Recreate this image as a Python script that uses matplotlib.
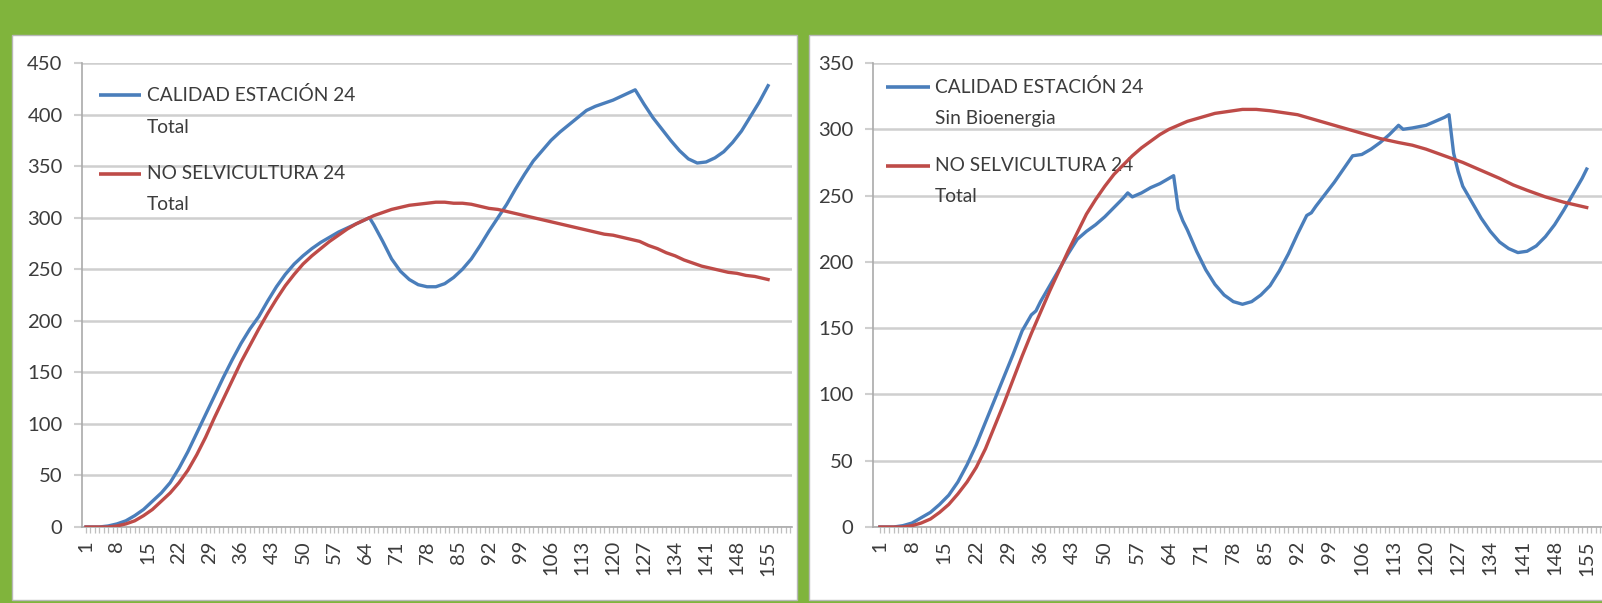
import matplotlib
matplotlib.use('Agg')
import matplotlib.pyplot as plt
from matplotlib import font_manager
from matplotlib.patches import Rectangle

# ---------------- data ----------------
x_blue_left = [1, 4, 6, 8, 10, 12, 14, 16, 18, 20, 22, 24, 26, 28, 30, 32, 34, 36, 38, 40,
               42, 44, 46, 48, 50, 52, 54, 56, 58, 60, 62, 64, 65, 66, 68, 70, 72, 74, 76, 78,
               80, 82, 84, 86, 88, 90, 92, 94, 96, 98, 100, 102, 104, 106, 108, 110, 112, 114,
               116, 118, 120, 122, 124, 125, 127, 129, 131, 133, 135, 137, 139, 141, 143, 145,
               147, 149, 151, 153, 155]
blue_left = [0, 0, 1, 3, 6, 11, 17, 25, 33, 43, 57, 73, 91, 109, 127, 145, 162, 178, 192, 204,
             219, 233, 245, 255, 263, 270, 276, 281, 286, 290, 294, 298, 300, 293, 277, 260, 248, 240, 235, 233,
             233, 236, 242, 250, 260, 273, 287, 300, 313, 328, 342, 355, 365, 375, 383, 390, 397, 404,
             408, 411, 414, 418, 422, 424, 410, 397, 386, 375, 365, 357, 353, 354, 358, 364,
             373, 384, 398, 412, 428]

x_red_left = [1, 6, 8, 10, 12, 14, 16, 18, 20, 22, 24, 26, 28, 30, 32, 34, 36, 38, 40, 42,
              44, 46, 48, 50, 52, 54, 56, 58, 60, 62, 64, 66, 68, 70, 72, 74, 76, 78, 80, 82,
              84, 86, 88, 90, 92, 94, 96, 98, 100, 102, 104, 106, 108, 110, 112, 114, 116, 118, 120, 122,
              124, 126, 128, 130, 132, 134, 136, 138, 140, 142, 144, 146, 148, 150, 152, 155]
red_left = [0, 0, 1, 3, 6, 11, 17, 25, 33, 43, 55, 70, 87, 106, 124, 142, 160, 176, 192, 207,
            221, 234, 245, 255, 263, 270, 277, 283, 289, 294, 298, 302, 305, 308, 310, 312, 313, 314, 315, 315,
            314, 314, 313, 311, 309, 308, 306, 304, 302, 300, 298, 296, 294, 292, 290, 288, 286, 284, 283, 281,
            279, 277, 273, 270, 266, 263, 259, 256, 253, 251, 249, 247, 246, 244, 243, 240]

x_blue_right = [1, 4, 6, 8, 10, 12, 14, 16, 18, 20, 22, 24, 26, 28, 30, 32, 34, 35, 36, 38,
                40, 42, 44, 46, 48, 50, 52, 54, 55, 56, 58, 60, 62, 64, 65, 66, 67, 68, 70, 72,
                74, 76, 78, 80, 82, 84, 86, 88, 90, 92, 94, 95, 96, 98, 100, 102, 104, 106, 108, 110,
                112, 114, 115, 117, 120, 122, 124, 125, 126, 127, 128, 130, 132, 134, 136, 138, 140, 142, 144, 146,
                148, 150, 152, 154, 155]
blue_right = [0, 0, 1, 3, 7, 11, 17, 24, 34, 47, 62, 79, 96, 113, 130, 148, 160, 163, 170, 182,
              194, 206, 217, 223, 228, 234, 241, 248, 252, 249, 252, 256, 259, 263, 265, 240, 231, 224, 208, 194,
              183, 175, 170, 168, 170, 175, 182, 193, 206, 221, 235, 237, 242, 251, 260, 270, 280, 281, 285, 290,
              296, 303, 300, 301, 303, 306, 309, 311, 282, 268, 257, 245, 233, 223, 215, 210, 207, 208, 212, 219,
              228, 239, 251, 263, 270]

x_red_right = [1, 6, 8, 10, 12, 14, 16, 18, 20, 22, 24, 26, 28, 30, 32, 34, 36, 38, 40, 42,
               44, 46, 48, 50, 52, 54, 56, 58, 60, 62, 64, 66, 68, 70, 72, 74, 76, 78, 80, 83,
               86, 88, 90, 92, 94, 96, 98, 100, 103, 106, 110, 114, 117, 120, 124, 128, 132, 136,
               139, 142, 146, 150, 155]
red_right = [0, 0, 1, 3, 6, 11, 17, 25, 34, 45, 59, 76, 93, 111, 129, 146, 162, 178, 193, 208,
             222, 236, 247, 257, 266, 273, 280, 286, 291, 296, 300, 303, 306, 308, 310, 312, 313, 314, 315, 315,
             314, 313, 312, 311, 309, 307, 305, 303, 300, 297, 293, 290, 288, 285, 280, 275, 269, 263,
             258, 254, 249, 245, 241]

tick_positions = [1, 8, 15, 22, 29, 36, 43, 50, 57, 64, 71, 78, 85, 92, 99, 106, 113, 120,
                  127, 134, 141, 148, 155]
tick_labels = [str(v) for v in tick_positions]

left_labels = ["CALIDAD ESTACIÓN 24\nTotal", "NO SELVICULTURA 24\nTotal"]
right_labels = ["CALIDAD ESTACIÓN 24\nSin Bioenergia", "NO SELVICULTURA 24\nTotal"]

BLUE = '#4a7ebb'
RED = '#be4b48'
GREEN = '#80b43c'
TEXT = '#3c3c3c'

# ---------------- fonts ----------------
def pick_font():
    for fam, scale in [('Liberation Sans Narrow', 1.0), ('Lato', 0.86), ('DejaVu Sans', 0.78)]:
        try:
            font_manager.findfont(font_manager.FontProperties(family=fam), fallback_to_default=False)
            return fam, scale
        except Exception:
            pass
    return 'DejaVu Sans', 0.78

FONT, FS = pick_font()
plt.rcParams['font.family'] = [FONT, 'DejaVu Sans']

W, H = 1602, 603
fig = plt.figure(figsize=(W / 100, H / 100), dpi=100)
fig.patch.set_facecolor(GREEN)

# white panels
for (x0, x1) in [(12, 797), (809, 1640)]:
    fig.add_artist(Rectangle((x0 / W, 3 / H), (x1 - x0) / W, (600 - 35) / H,
                             transform=fig.transFigure, facecolor='white',
                             edgecolor='#b8b8b8', linewidth=1.0, zorder=-10))


def style_axes(ax, ymax, ystep, xlim):
    ax.set_facecolor('none')
    ax.set_xlim(*xlim)
    ax.set_ylim(0, ymax)
    ax.set_yticks(range(0, ymax + 1, ystep))
    ax.yaxis.grid(True, color='#cfcfcf', linewidth=1.8)
    ax.set_axisbelow(True)
    for s in ['top', 'right']:
        ax.spines[s].set_visible(False)
    for s in ['left', 'bottom']:
        ax.spines[s].set_color('#aaaaaa')
        ax.spines[s].set_linewidth(1.2)
    ax.set_xticks(tick_positions)
    ax.set_xticklabels(tick_labels, rotation=90)
    ax.set_xticks(range(1, 161), minor=True)
    ax.tick_params(axis='x', which='both', length=4.5, width=0.9, color='#bfbfbf',
                   labelsize=17 * FS, labelcolor=TEXT, pad=5)
    ax.tick_params(axis='y', length=6, width=1.5, color='#cfcfcf',
                   labelsize=17 * FS, labelcolor=TEXT, pad=8)


def legend(ax, labels, colors, xs, ys):
    for lab, col, y in zip(labels, colors, ys):
        first, second = lab.split('\n')
        ax.plot([xs[0], xs[1]], [y[0], y[0]], transform=ax.transAxes, color=col,
                linewidth=2.6, solid_capstyle='butt', clip_on=False, zorder=4)
        ax.text(xs[2], y[0], first, transform=ax.transAxes, ha='left', va='center',
                fontsize=16 * FS, color=TEXT, zorder=3)
        ax.text(xs[2], y[1], second, transform=ax.transAxes, ha='left', va='center',
                fontsize=16 * FS, color=TEXT, zorder=3)


# left chart
axL = fig.add_axes([82 / W, 76 / H, 710 / W, 464 / H])
style_axes(axL, 450, 50, (0.1, 160.4))
axL.plot(x_blue_left, blue_left, color=BLUE, linewidth=2.4, zorder=5)
axL.plot(x_red_left, red_left, color=RED, linewidth=2.4, zorder=5)
legend(axL, left_labels, [BLUE, RED], (0.024, 0.083, 0.0915),
       [(0.931, 0.862), (0.761, 0.694)])

# right chart
axR = fig.add_axes([873 / W, 76 / H, 738.5 / W, 464 / H])
style_axes(axR, 350, 50, (-0.5, 160.4))
axR.plot(x_blue_right, blue_right, color=BLUE, linewidth=2.4, zorder=5)
axR.plot(x_red_right, red_right, color=RED, linewidth=2.4, zorder=5)
legend(axR, right_labels, [BLUE, RED], (0.0176, 0.0772, 0.084),
       [(0.948, 0.881), (0.779, 0.712)])

fig.savefig('out.png', dpi=100, facecolor=GREEN)
